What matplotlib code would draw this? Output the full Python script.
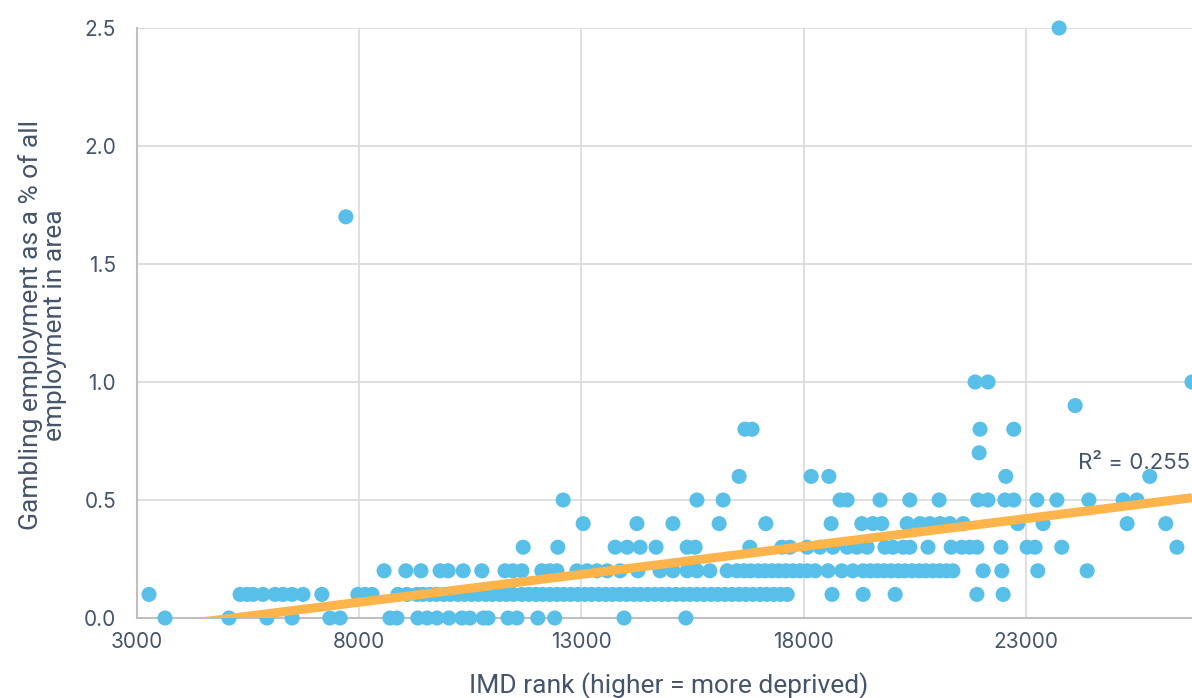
import matplotlib
matplotlib.use("Agg")
import matplotlib.pyplot as plt
import numpy as np

# IMD rank of each area, grouped by gambling employment share (%)
rank_00 = [3630, 5070, 5925, 6490, 7340, 7570, 8690, 8850, 9320, 9530, 9750, 10020,
           10310, 10490, 10790, 10900, 11350, 11550, 12020, 12400, 13960, 15350]
rank_01 = [3270, 5320, 5475, 5610, 5835, 6105, 6285, 6490, 6735, 7160, 7970, 8130,
           8290, 8870, 9075, 9300, 9435, 9590, 9740, 9900, 10050, 10220, 10370,
           10530, 10680, 10850, 11000, 11160, 11310, 11470, 11660, 11820, 11980,
           12130, 12290, 12450, 12600, 12760, 12920, 13080, 13230, 13390, 13550,
           13700, 13860, 14020, 14180, 14330, 14490, 14650, 14810, 14960, 15130,
           15290, 15440, 15600, 15760, 15920, 16070, 16230, 16390, 16550, 16700,
           16860, 17020, 17170, 17330, 17480, 17630, 18640, 19340, 20060, 21900, 22490]
rank_02 = [8560, 9050, 9390, 9820, 10000, 10340, 10760, 11280, 11460, 11660, 12110,
           12290, 12450, 12900, 13130, 13350, 13580, 13870, 14270, 14770, 15060,
           15380, 15600, 15890, 16280, 16500, 16660, 16810, 16980, 17130, 17290,
           17440, 17600, 17760, 17920, 18080, 18260, 18550, 18860, 19110, 19340,
           19500, 19660, 19810, 19970, 20130, 20280, 20440, 20600, 20750, 20910,
           21060, 21220, 21360, 22040, 22460, 23270, 24380]
rank_03 = [11690, 12470, 13760, 14030, 14320, 14680, 15380, 15560, 16790, 17510,
           17690, 18080, 18370, 18660, 18980, 19200, 19430, 19830, 20010, 20240,
           20390, 20800, 21320, 21560, 21740, 21900, 22440, 23030, 23210, 23810, 26400]
rank_04 = [13040, 14250, 15060, 16100, 17150, 18620, 19310, 19560, 19760, 20330,
           20620, 20840, 21070, 21290, 21590, 22820, 23390, 25280, 26150]
rank_05 = [12590, 15600, 16190, 18820, 18980, 19720, 20390, 21050, 21920, 22150,
           22530, 22730, 23250, 23700, 24420, 25190, 25500]
rank_06 = [16550, 18170, 18570, 22550, 25790]
rank_07 = [21950]
rank_08 = [16680, 16840, 21970, 22730]
rank_09 = [24110]
rank_10 = [21860, 22150, 26740]
rank_17 = [7700]
rank_25 = [23750]

groups = [(0.0, rank_00), (0.1, rank_01), (0.2, rank_02), (0.3, rank_03),
          (0.4, rank_04), (0.5, rank_05), (0.6, rank_06), (0.7, rank_07),
          (0.8, rank_08), (0.9, rank_09), (1.0, rank_10), (1.7, rank_17),
          (2.5, rank_25)]

x = np.array([r for share, ranks in groups for r in ranks], dtype=float)
y = np.array([share for share, ranks in groups for r in ranks], dtype=float)

x_ticks = [3000, 8000, 13000, 18000, 23000]
y_ticks = [0.0, 0.5, 1.0, 1.5, 2.0, 2.5]

blue = "#58C0E8"
orange = "#FDB44A"
text_col = "#44546A"

fig = plt.figure(figsize=(11.92, 6.98), dpi=100)
ax = fig.add_axes([137 / 1192, 80 / 698, 1 - 137 / 1192, 590 / 698])

ax.scatter(x, y, s=118, color=blue, edgecolors="none", zorder=3, clip_on=False)

slope, intercept = np.polyfit(x, y, 1)
fx = np.array([x.min(), x.max()])
ax.plot(fx, slope * fx + intercept, color=orange, lw=6.5, solid_capstyle="butt", zorder=4)

ax.set_xlim(3000, 26740)
ax.set_ylim(0, 2.5)
ax.set_xticks(x_ticks)
ax.set_yticks(y_ticks)
ax.set_yticklabels([f"{v:.1f}" for v in y_ticks])
ax.grid(True, color="#D9D9D9", lw=1.2)
ax.set_axisbelow(True)
for s in ["top", "right"]:
    ax.spines[s].set_visible(False)
for s in ["left", "bottom"]:
    ax.spines[s].set_color("#BFBFBF")
    ax.spines[s].set_linewidth(1.5)
ax.tick_params(length=0, labelsize=15, colors=text_col)
ax.tick_params(axis="y", pad=15)
ax.tick_params(axis="x", pad=10)
for lab in ax.get_xticklabels() + ax.get_yticklabels():
    lab.set_family(["Inter", "DejaVu Sans"])

ax.set_xlabel("IMD rank (higher = more deprived)", fontsize=19, color=text_col,
              family=["Roboto", "DejaVu Sans"], va="center")
ax.xaxis.set_label_coords(0.504, -0.114)
ax.set_ylabel("Gambling employment as a % of all\nemployment in area", fontsize=19,
              color=text_col, family=["Roboto", "DejaVu Sans"], va="center",
              linespacing=1.0)
ax.yaxis.set_label_coords(-0.090, 0.497)

ax.text(0.9985, 0.262, "R\u00b2 = 0.255", transform=ax.transAxes, fontsize=16,
        color=text_col, family=["Inter", "DejaVu Sans"], va="center", ha="right")

fig.savefig("out.png", dpi=100)
